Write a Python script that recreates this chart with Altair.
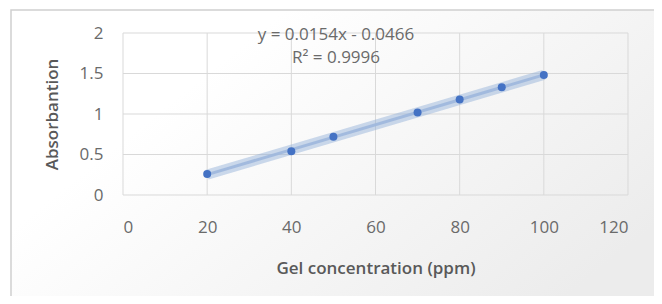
import altair as alt
import pandas as pd

concentration = [20, 40, 50, 70, 80, 90, 100]
absorbance = [0.26, 0.54, 0.72, 1.02, 1.18, 1.33, 1.48]
x_ticks = [0, 20, 40, 60, 80, 100, 120]
y_ticks = [0, 0.5, 1, 1.5, 2]
equation_lines = ["y = 0.0154x - 0.0466", "R² = 0.9996"]

df = pd.DataFrame({"conc": concentration, "abs": absorbance})

FONT = "Open Sans"
GRAY = "#595959"
LGRAY = "#6a6a6a"
BLUE = "#4472C4"
GRID = "#d9d9d9"

xs = alt.Scale(domain=[0, 120], nice=False, zero=False)
ys = alt.Scale(domain=[0, 2], nice=False, zero=False)

# background frame with gradient
bg = alt.Chart(pd.DataFrame({"a": [0]})).mark_rect(
    fill=alt.LinearGradient(
        gradient="linear", x1=0, y1=0, x2=1, y2=0.6,
        stops=[alt.GradientStop(color="#ffffff", offset=0.3),
               alt.GradientStop(color="#ececec", offset=1)]),
    stroke="#d0d0d0", strokeWidth=1.5, clip=False
).encode(x=alt.value(-112), x2=alt.value(560), y=alt.value(-23), y2=alt.value(300))

# gridlines
vgrid = alt.Chart(pd.DataFrame({"g": x_ticks})).mark_rule(color=GRID, strokeWidth=1).encode(
    x=alt.X("g:Q", scale=xs), y=alt.value(0), y2=alt.value(162))
hgrid = alt.Chart(pd.DataFrame({"g": y_ticks})).mark_rule(color=GRID, strokeWidth=1).encode(
    y=alt.Y("g:Q", scale=ys), x=alt.value(0), x2=alt.value(505))

base = alt.Chart(df)

axis_x = alt.Axis(values=x_ticks, title="Gel concentration (ppm)", grid=False,
                  domain=False, ticks=False, zindex=1,
                  labelFont=FONT, labelFontSize=17, labelColor=LGRAY, labelPadding=24,
                  titleFont=FONT, titleFontSize=17, titleColor=GRAY, titleFontWeight=600,
                  titlePadding=25)
axis_y = alt.Axis(values=y_ticks, title="Absorbantion", grid=False, format="~g",
                  domain=False, ticks=False, zindex=1,
                  labelFont=FONT, labelFontSize=17, labelColor=LGRAY, labelPadding=20,
                  titleFont=FONT, titleFontSize=17, titleColor=GRAY, titleFontWeight=600,
                  titlePadding=18)

band = base.transform_regression("conc", "abs", method="linear").mark_line(
    color="#8eacd8", strokeWidth=10, opacity=0.45, strokeCap="butt"
).encode(x=alt.X("conc:Q", scale=xs, axis=axis_x), y=alt.Y("abs:Q", scale=ys, axis=axis_y))

core = base.transform_regression("conc", "abs", method="linear").mark_line(
    color="#9db7dd", strokeWidth=3, opacity=0.9
).encode(x=alt.X("conc:Q", scale=xs), y=alt.Y("abs:Q", scale=ys))

pts = base.mark_circle(size=64, color=BLUE, opacity=1).encode(
    x=alt.X("conc:Q", scale=xs), y=alt.Y("abs:Q", scale=ys))

eq_df = pd.DataFrame({"t": equation_lines, "i": [0, 1]})
eq1 = alt.Chart(eq_df).transform_filter("datum.i == 0").mark_text(
    font=FONT, fontSize=17, color=LGRAY, align="center", baseline="middle"
).encode(text="t:N", x=alt.value(213), y=alt.value(2))
eq2 = alt.Chart(eq_df).transform_filter("datum.i == 1").mark_text(
    font=FONT, fontSize=17, color=LGRAY, align="center", baseline="middle"
).encode(text="t:N", x=alt.value(213), y=alt.value(25))

chart = alt.layer(bg, vgrid, hgrid, band, core, pts, eq1, eq2).properties(
    width=505, height=162,
    autosize=alt.AutoSizeParams(type="none"),
    padding={"left": 115, "top": 25, "right": 26, "bottom": 101},
    background="white"
).configure_view(stroke=None)

chart.save("out.html", embed_options={"renderer": "svg", "actions": False})
